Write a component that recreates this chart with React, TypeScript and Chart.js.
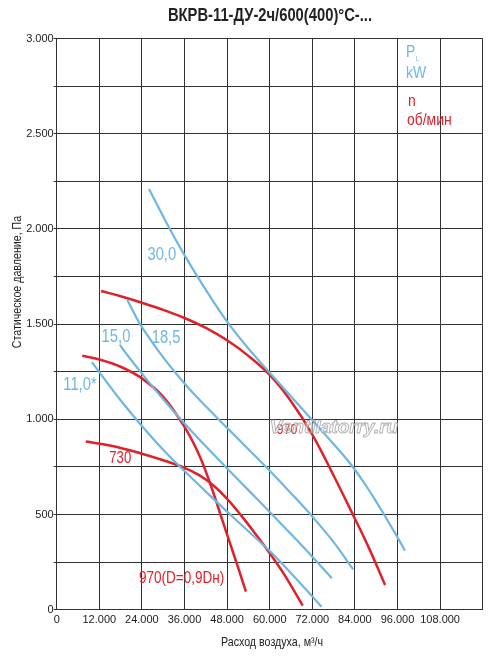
import { useEffect, useRef } from 'react'
import { Chart, registerables } from 'chart.js'
import type { Plugin } from 'chart.js'

Chart.register(...registerables)

const FONT = '"Liberation Sans", Arial, sans-serif'
const NARROW = 0.82 // Arial Narrow look, faked by squeezing Liberation Sans
const BLUE = '#6fb7e2'
const RED = '#e0212a'
const GRID = '#333333'

const xTicksMax = 120000
const yTicksMax = 3000

// power curves (P_L, kW): flow m3/h, static pressure Pa
const fan11Flow = [9900, 12000, 18000, 24000, 30000, 36000, 42000, 48000, 54000, 60000, 66000, 72000, 74600]
const fan11Pressure = [1300, 1248, 1100, 965, 840, 728, 620, 515, 412, 308, 192, 70, 15]

const fan15Flow = [17800, 20000, 24000, 30000, 36000, 42000, 48000, 54000, 60000, 66000, 72000, 77500]
const fan15Pressure = [1391, 1335, 1240, 1105, 978, 858, 742, 628, 513, 397, 278, 165]

const fan185Flow = [19900, 22000, 24000, 30000, 36000, 42000, 48000, 54000, 60000, 66000, 72000, 78000, 83500]
const fan185Pressure = [1627, 1550, 1484, 1325, 1188, 1068, 955, 843, 730, 612, 489, 355, 212]

const fan30Flow = [26000, 31000, 36000, 42000, 48000, 54000, 60000, 66000, 72000, 78000, 81000, 84000, 87000, 90000, 93000, 96000, 98100]
const fan30Pressure = [2210, 2030, 1862, 1680, 1513, 1372, 1245, 1120, 995, 870, 806, 735, 655, 568, 475, 380, 310]

// speed curves (n, rpm)
const rpm970Flow = [12500, 18000, 24000, 30000, 36000, 42000, 48000, 54000, 60000, 66000, 72000, 78000, 84000, 88000, 92500]
const rpm970Pressure = [1674, 1646, 1612, 1575, 1532, 1480, 1415, 1333, 1233, 1095, 920, 705, 478, 322, 130]

const rpm730Flow = [8200, 15000, 23500, 30000, 36000, 40000, 44000, 48000, 52000, 56000, 60000, 64000, 69300]
const rpm730Pressure = [883, 862, 822, 785, 745, 708, 655, 582, 494, 398, 297, 188, 21]

const rpm970dFlow = [7200, 12000, 18000, 24000, 30000, 36000, 40000, 43200, 47000, 50700, 53300]
const rpm970dPressure = [1334, 1314, 1276, 1215, 1118, 960, 818, 664, 451, 244, 95]

// curve labels, placed in data units
const curveLabels = [
  { text: '30,0', x: 29600, y: 1864, color: BLUE, size: 18 },
  { text: '18,5', x: 30800, y: 1427, color: BLUE, size: 18 },
  { text: '15,0', x: 16700, y: 1433, color: BLUE, size: 18 },
  { text: '11,0*', x: 6560, y: 1181, color: BLUE, size: 18 },
  { text: '970', x: 64900, y: 945, color: RED, size: 15 },
  { text: '730', x: 17900, y: 796, color: RED, size: 16 },
  { text: '970(D=0,9Dн)', x: 35200, y: 165, color: RED, size: 16.5 },
]

function thousands(v: number): string {
  if (v < 1000) return String(v)
  return `${Math.floor(v / 1000)}.${String(v % 1000).padStart(3, '0')}`
}

function pairs(xs: number[], ys: number[]) {
  return xs.map((x, i) => ({ x, y: ys[i] }))
}

function curve(label: string, xs: number[], ys: number[], color: string, width: number) {
  return {
    label,
    data: pairs(xs, ys),
    borderColor: color,
    backgroundColor: color,
    borderWidth: width,
    pointRadius: 0,
    fill: false,
    tension: 0.4,
  }
}

function narrowText(
  ctx: CanvasRenderingContext2D,
  text: string,
  x: number,
  y: number,
  font: string,
  color: string,
  align: CanvasTextAlign = 'center',
  angle = 0,
) {
  ctx.save()
  ctx.translate(x, y)
  if (angle) ctx.rotate(angle)
  ctx.scale(NARROW, 1)
  ctx.font = font
  ctx.fillStyle = color
  ctx.textAlign = align
  ctx.textBaseline = 'middle'
  ctx.fillText(text, 0, 0)
  ctx.restore()
}

const textPlugin: Plugin<'line'> = {
  id: 'fanText',
  afterDatasetsDraw(chart) {
    const { ctx, scales } = chart
    const xs = scales.x
    const ys = scales.y
    for (const l of curveLabels) {
      narrowText(ctx, l.text, xs.getPixelForValue(l.x), ys.getPixelForValue(l.y), `${l.size}px ${FONT}`, l.color)
    }

    // watermark
    ctx.save()
    ctx.textAlign = 'center'
    ctx.textBaseline = 'middle'
    ctx.font = `italic bold 19px ${FONT}`
    ctx.lineWidth = 0.9
    ctx.strokeStyle = 'rgba(140,140,140,0.7)'
    ctx.fillStyle = 'rgba(255,255,255,0.5)'
    ctx.fillText('Ventilatorry.ru', 334, 428)
    ctx.strokeText('Ventilatorry.ru', 334, 428)
    ctx.restore()

    // legend texts
    narrowText(ctx, 'P', 406, 52, `17px ${FONT}`, BLUE, 'left')
    narrowText(ctx, 'L', 416, 59, `7px ${FONT}`, BLUE, 'left')
    narrowText(ctx, 'kW', 406, 73, `17px ${FONT}`, BLUE, 'left')
    narrowText(ctx, 'n', 408, 101, `17px ${FONT}`, RED, 'left')
    narrowText(ctx, 'об/мин', 407, 120, `17px ${FONT}`, RED, 'left')

    // titles
    narrowText(ctx, 'ВКРВ-11-ДУ-2ч/600(400)°С-...', 270, 16, `bold 18px ${FONT}`, '#222')
    narrowText(ctx, 'Расход воздуха, м³/ч', 272, 642, `13px ${FONT}`, '#222')
    narrowText(ctx, 'Статическое давление, Па', 17, 282, `13px ${FONT}`, '#222', 'center', -Math.PI / 2)
  },
}

export default function App() {
  const canvasRef = useRef<HTMLCanvasElement>(null)

  useEffect(() => {
    document.body.style.margin = '0'
    if (!canvasRef.current) return
    const chart = new Chart(canvasRef.current, {
      type: 'line',
      data: {
        datasets: [
          curve('11,0*', fan11Flow, fan11Pressure, BLUE, 2.2),
          curve('15,0', fan15Flow, fan15Pressure, BLUE, 2.2),
          curve('18,5', fan185Flow, fan185Pressure, BLUE, 2.2),
          curve('30,0', fan30Flow, fan30Pressure, BLUE, 2.2),
          curve('970', rpm970Flow, rpm970Pressure, RED, 2.5),
          curve('730', rpm730Flow, rpm730Pressure, RED, 2.5),
          curve('970(D=0,9Dн)', rpm970dFlow, rpm970dPressure, RED, 2.5),
        ],
      },
      options: {
        responsive: true,
        maintainAspectRatio: false,
        animation: false,
        layout: { padding: { left: 0, right: 17.3, top: 38.5, bottom: 0 } },
        plugins: { legend: { display: false }, tooltip: { enabled: false } },
        scales: {
          x: {
            type: 'linear',
            min: 0,
            max: xTicksMax,
            ticks: {
              stepSize: 12000,
              autoSkip: false,
              maxRotation: 0,
              padding: 4,
              color: '#222',
              font: { family: FONT, size: 11 },
              callback: (v) => (Number(v) >= xTicksMax ? '' : thousands(Number(v))),
            },
            grid: { color: GRID, lineWidth: 1, drawTicks: false },
            border: { color: GRID, width: 1 },
            afterFit: (s) => {
              s.height = 47.3
            },
          },
          y: {
            type: 'linear',
            min: 0,
            max: yTicksMax,
            ticks: {
              stepSize: 250,
              autoSkip: false,
              padding: 0,
              color: '#222',
              font: { family: FONT, size: 11 },
              callback: (v) => (Number(v) % 500 === 0 ? thousands(Number(v)) : ''),
            },
            grid: { color: GRID, lineWidth: 1, tickLength: 3 },
            border: { color: GRID, width: 1 },
            afterFit: (s) => {
              s.width = 56.7
            },
          },
        },
      },
      plugins: [textPlugin],
    })
    return () => chart.destroy()
  }, [])

  return (
    <div style={{ width: 500, height: 657, position: 'relative' }}>
      <canvas ref={canvasRef} />
    </div>
  )
}
